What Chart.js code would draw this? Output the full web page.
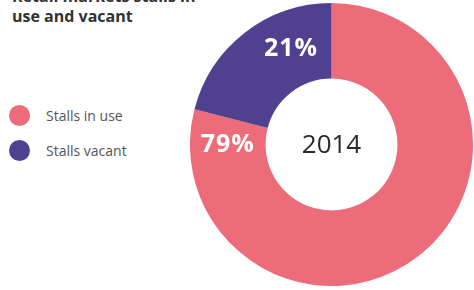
<!DOCTYPE html>
<html>
<head>
<meta charset="utf-8">
<script src="https://cdn.jsdelivr.net/npm/chart.js@4"></script>
<style>
  html, body { margin: 0; padding: 0; background: #fff; }
  body { width: 474px; height: 290px; position: relative; overflow: hidden; font-family: "Open Sans", sans-serif; }
  #title { position: absolute; left: 12px; top: -14px; font-size: 16px; line-height: 20px; font-weight: 700; color: #333; }
  #legend { position: absolute; left: 9px; top: 0; }
  .item { position: absolute; left: 0; display: flex; align-items: center; white-space: nowrap; font-size: 14px; color: #555; height: 24px; }
  .dot { width: 21px; height: 21px; border-radius: 50%; margin-right: 16px; }
  #wrap { position: absolute; left: 190px; top: 3px; width: 283px; height: 283px; }
</style>
</head>
<body>
<div id="title">Retail markets stalls in<br>use and vacant</div>
<div id="legend"></div>
<div id="wrap"><canvas id="c"></canvas></div>
<script>
const categories = ["Stalls in use", "Stalls vacant"];
const shares = [79, 21];
const colors = ["#EC6C7A", "#4F4190"];
const centerLabel = "2014";

// legend (html, like the source graphic)
const legend = document.getElementById("legend");
const legendTops = [103, 138];
categories.forEach((name, i) => {
  const row = document.createElement("div");
  row.className = "item";
  row.style.top = legendTops[i] + "px";
  row.innerHTML = '<span class="dot" style="background:' + colors[i] + '"></span>' + name;
  legend.appendChild(row);
});

// percent labels sit in the middle of the ring, at a chosen angle (deg from top, clockwise)
const labelAngles = [-90, -23];

const ringLabels = {
  id: "ringLabels",
  afterDatasetsDraw(chart) {
    const ctx = chart.ctx;
    const meta = chart.getDatasetMeta(0);
    ctx.save();
    ctx.textAlign = "center";
    ctx.textBaseline = "middle";
    meta.data.forEach((arc, i) => {
      const r = (arc.innerRadius + arc.outerRadius) / 2;
      const a = (labelAngles[i] - 90) * Math.PI / 180;
      const x = arc.x + r * Math.cos(a);
      const y = arc.y + r * Math.sin(a);
      ctx.fillStyle = "#fff";
      ctx.font = "700 25px 'Open Sans', sans-serif";
      ctx.letterSpacing = "1px";
      ctx.fillText(shares[i] + "%", x, y);
    });
    const arc0 = meta.data[0];
    ctx.letterSpacing = "0px";
    ctx.fillStyle = "#2a2a2a";
    ctx.font = "500 26px 'Open Sans', sans-serif";
    ctx.fillText(centerLabel, arc0.x, arc0.y + 1);
    ctx.restore();
  }
};

new Chart(document.getElementById("c"), {
  type: "doughnut",
  data: {
    labels: categories,
    datasets: [{ data: shares, backgroundColor: colors, borderWidth: 0 }]
  },
  options: {
    responsive: true,
    maintainAspectRatio: false,
    animation: false,
    devicePixelRatio: 1,
    cutout: "46.6%",
    layout: { padding: 0 },
    plugins: { legend: { display: false }, tooltip: { enabled: false } }
  },
  plugins: [ringLabels]
});
</script>
</body>
</html>
